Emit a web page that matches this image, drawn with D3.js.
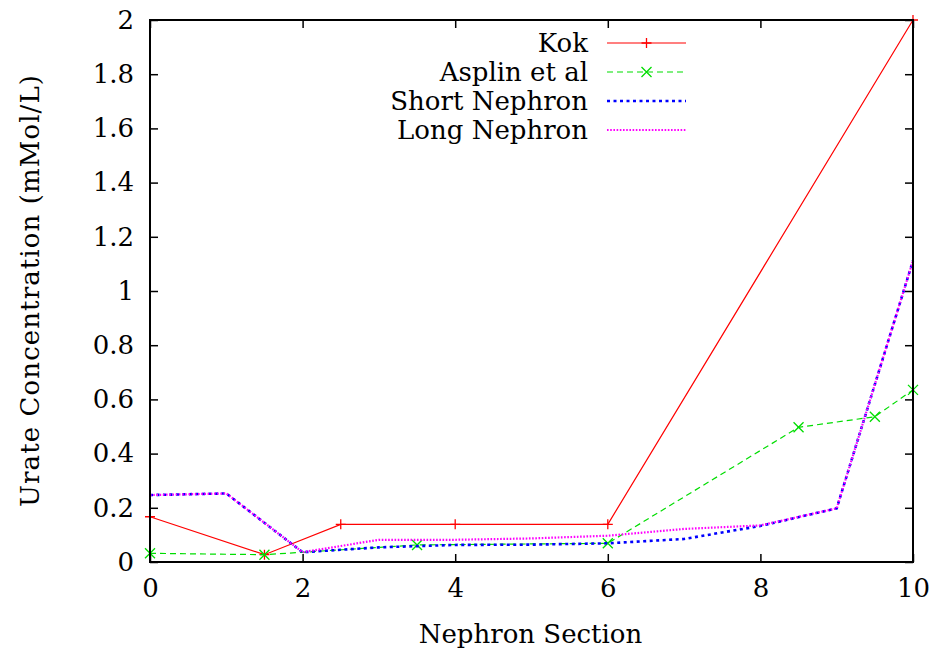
<!DOCTYPE html>
<html>
<head>
<meta charset="utf-8">
<script src="https://cdn.jsdelivr.net/npm/d3@7"></script>
<style>
  html, body { margin: 0; padding: 0; background: #fff; }
  text { font-family: "DejaVu Serif", "Liberation Serif", serif; fill: #000; }
</style>
</head>
<body>
<svg id="chart" width="941" height="656"></svg>
<script>
// Nephron sections sampled by each series
const kokX = [0, 1.5, 2.5, 4, 6, 10];
const kokY = [0.167, 0.027, 0.139, 0.139, 0.139, 2.0];

const asplinX = [0, 1.5, 3.5, 6, 8.5, 9.5, 10];
const asplinY = [0.032, 0.027, 0.063, 0.069, 0.497, 0.536, 0.635];

const sectionX = [0, 1, 2, 3, 4, 5, 6, 7, 8, 9, 10];
const shortNephronY = [0.247, 0.253, 0.036, 0.054, 0.063, 0.064, 0.069, 0.085, 0.133, 0.198, 1.112];
const longNephronY  = [0.247, 0.253, 0.036, 0.082, 0.082, 0.087, 0.097, 0.122, 0.135, 0.198, 1.112];

const xTicks = [0, 2, 4, 6, 8, 10];
const yTicks = [0, 0.2, 0.4, 0.6, 0.8, 1, 1.2, 1.4, 1.6, 1.8, 2];

const seriesNames = ["Kok", "Asplin et al", "Short Nephron", "Long Nephron"];

const svg = d3.select("#chart");
const plotLeft = 150, plotRight = 913, plotTop = 20, plotBottom = 562;

const x = d3.scaleLinear().domain([0, 10]).range([plotLeft, plotRight]);
const y = d3.scaleLinear().domain([0, 2]).range([plotBottom, plotTop]);

const fontSize = 26;
const tickLen = 8;

// Axes: inward ticks on all four sides
const gx = svg.append("g").attr("transform", `translate(0,${plotBottom})`)
  .call(d3.axisBottom(x).tickValues(xTicks).tickSize(-tickLen).tickPadding(17).tickFormat(d3.format("")));
const gxTop = svg.append("g").attr("transform", `translate(0,${plotTop})`)
  .call(d3.axisTop(x).tickValues(xTicks).tickSize(-tickLen).tickFormat(""));
const gy = svg.append("g").attr("transform", `translate(${plotLeft},0)`)
  .call(d3.axisLeft(y).tickValues(yTicks).tickSize(-tickLen).tickPadding(16).tickFormat(d3.format("")));
const gyRight = svg.append("g").attr("transform", `translate(${plotRight},0)`)
  .call(d3.axisRight(y).tickValues(yTicks).tickSize(-tickLen).tickFormat(""));

[gx, gxTop, gy, gyRight].forEach(g => {
  g.select(".domain").remove();
  g.selectAll(".tick line").attr("stroke", "#000").attr("stroke-width", 1.5);
  g.selectAll(".tick text").attr("font-size", fontSize)
    .attr("font-family", "DejaVu Serif, Liberation Serif, serif").attr("fill", "#000");
});
gx.selectAll(".tick text").attr("dy", "0.71em");

// Series lines
const line = d3.line().x(d => x(d[0])).y(d => y(d[1]));
const zip = (xs, ys) => xs.map((v, i) => [v, ys[i]]);

const plot = svg.append("g");

const kokData = zip(kokX, kokY);
const asplinData = zip(asplinX, asplinY);
const shortData = zip(sectionX, shortNephronY);
const longData = zip(sectionX, longNephronY);

const styles = [
  { color: "#ff0000", width: 1.2, dash: null, marker: "plus" },
  { color: "#00dd00", width: 1.2, dash: "6,4", marker: "cross" },
  { color: "#0000ff", width: 2.6, dash: "3,3.5", marker: null },
  { color: "#ff00ff", width: 2.2, dash: "1.6,1.6", marker: null }
];

function drawMarker(g, type, cx, cy, color) {
  const s = 5;
  if (type === "plus") {
    g.append("path").attr("d", `M${cx - s},${cy}H${cx + s}M${cx},${cy - s}V${cy + s}`)
      .attr("stroke", color).attr("stroke-width", 1.3).attr("fill", "none");
  } else if (type === "cross") {
    g.append("path").attr("d", `M${cx - s},${cy - s}L${cx + s},${cy + s}M${cx - s},${cy + s}L${cx + s},${cy - s}`)
      .attr("stroke", color).attr("stroke-width", 1.3).attr("fill", "none");
  }
}

[kokData, asplinData, shortData, longData].forEach((data, i) => {
  const st = styles[i];
  plot.append("path").datum(data)
    .attr("d", line)
    .attr("fill", "none")
    .attr("stroke", st.color)
    .attr("stroke-width", st.width)
    .attr("stroke-dasharray", st.dash);
  if (st.marker) {
    data.forEach(d => drawMarker(plot, st.marker, x(d[0]), y(d[1]), st.color));
  }
});

// Frame
svg.append("rect").attr("x", plotLeft).attr("y", plotTop)
  .attr("width", plotRight - plotLeft).attr("height", plotBottom - plotTop)
  .attr("fill", "none").attr("stroke", "#000").attr("stroke-width", 2);

// Legend
const legend = svg.append("g");
const legendRows = [43, 72, 101, 130];
const textRight = 588, sampleX0 = 607, sampleX1 = 686;
seriesNames.forEach((name, i) => {
  const st = styles[i];
  const ry = legendRows[i];
  legend.append("text").attr("x", textRight).attr("y", ry)
    .attr("dy", "0.36em").attr("text-anchor", "end")
    .attr("font-size", fontSize).text(name);
  legend.append("line").attr("x1", sampleX0).attr("x2", sampleX1)
    .attr("y1", ry).attr("y2", ry)
    .attr("stroke", st.color).attr("stroke-width", st.width)
    .attr("stroke-dasharray", st.dash);
  if (st.marker) drawMarker(legend, st.marker, (sampleX0 + sampleX1) / 2, ry, st.color);
});

// Axis titles
svg.append("text").attr("x", (plotLeft + plotRight) / 2 - 1).attr("y", 634)
  .attr("dy", "0.36em").attr("text-anchor", "middle")
  .attr("font-size", fontSize).text("Nephron Section");

svg.append("text")
  .attr("transform", `translate(30,${(plotTop + plotBottom) / 2}) rotate(-90)`)
  .attr("dy", "0.36em").attr("text-anchor", "middle")
  .attr("font-size", fontSize)
  .attr("textLength", 432).attr("lengthAdjust", "spacing")
  .text("Urate Concentration (mMol/L)");
</script>
</body>
</html>
